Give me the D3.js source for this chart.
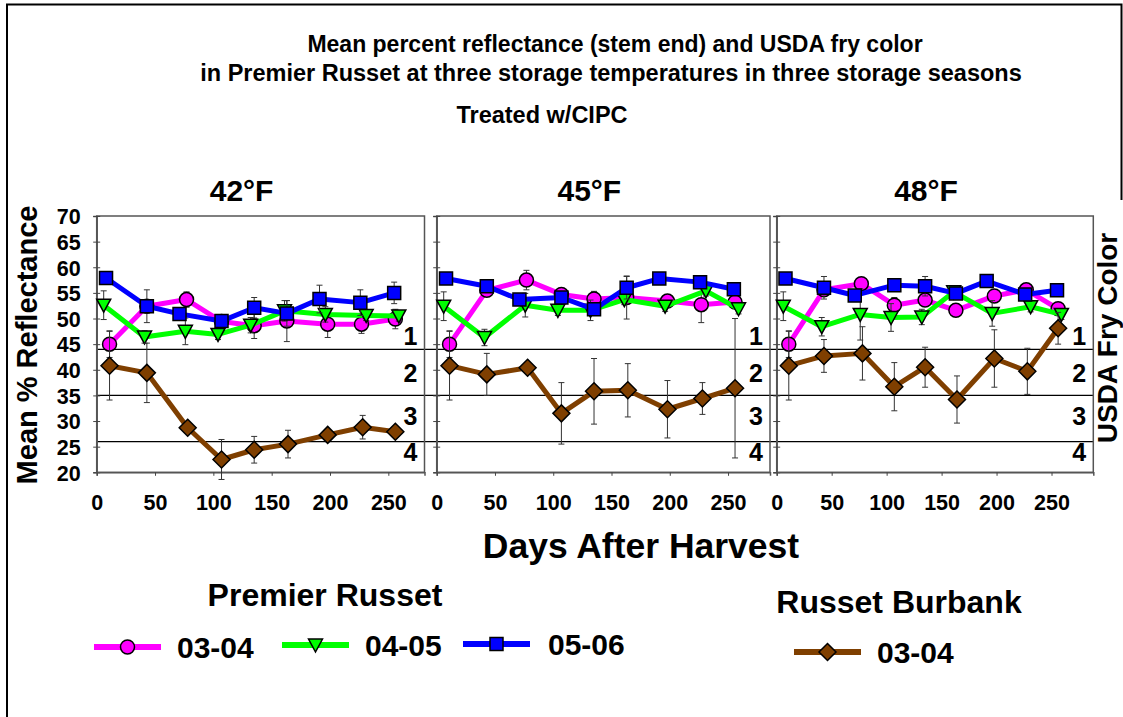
<!DOCTYPE html>
<html><head><meta charset="utf-8">
<script src="https://cdn.jsdelivr.net/npm/d3@7"></script>
<style>
body{margin:0;background:#fff}
text{font-family:"Liberation Sans",Arial,Helvetica,sans-serif;font-weight:bold;fill:#000}
</style>
</head><body>
<svg id="chart" width="1123" height="717"></svg>
<script>
// ---------- data ----------
const titleLines = ["Mean percent reflectance (stem end) and USDA fry color",
  "in Premier Russet at three storage temperatures in three storage seasons"];
const subTitle = "Treated w/CIPC";
const temperatures = ["42°F", "45°F", "48°F"];
const yTicks = [20, 25, 30, 35, 40, 45, 50, 55, 60, 65, 70];
const xTicks = [0, 50, 100, 150, 200, 250];
const fryBreaks = [44, 35, 26];
const fryLabels = ["1", "2", "3", "4"];
const fryLabelLevels = [46.5, 39.4, 31.0, 24.0];

const seriesLabels = ["03-04", "04-05", "05-06", "03-04"];
const cultivars = ["Premier Russet", "Premier Russet", "Premier Russet", "Russet Burbank"];

const daysPR0304 = [11, 43, 77, 107, 135, 163, 198, 227, 256];
const daysPR0405 = [6, 41, 76, 104, 132, 161, 196, 231, 259];
const daysPR0506 = [8, 43, 71, 107, 135, 163, 191, 226, 255];
const daysRB0304 = [11, 43, 78, 107, 135, 164, 198, 228, 256];

// 42°F
const t42PR0304 = [45.0, 52.4, 53.7, 49.4, 48.6, 49.5, 48.9, 48.9, 49.9];
const t42PR0405 = [52.6, 46.4, 47.5, 46.9, 48.7, 51.5, 50.8, 50.6, 50.5];
const t42PR0506 = [57.9, 52.4, 50.9, 49.5, 52.1, 51.0, 53.8, 53.1, 55.0];
const t42RB0304 = [40.8, 39.4, 28.7, 22.5, 24.4, 25.5, 27.3, 28.8, 27.9];
// 45°F
const t45PR0304 = [45.0, 55.5, 57.5, 54.7, 53.8, 54.1, 53.4, 52.7, 53.2];
const t45PR0405 = [52.4, 46.3, 52.6, 51.6, 51.6, 53.7, 52.4, 55.4, 51.9];
const t45PR0506 = [57.8, 56.3, 53.7, 54.1, 51.8, 56.0, 57.8, 57.1, 55.7];
const t45RB0304 = [40.8, 39.1, 40.4, 31.5, 35.8, 36.0, 32.3, 34.4, 36.4];
// 48°F
const t48PR0304 = [45.0, 55.6, 56.8, 52.6, 53.6, 51.6, 54.4, 55.6, 51.9];
const t48PR0405 = [52.4, 48.4, 50.8, 50.2, 50.3, 55.2, 51.0, 52.3, 50.8];
const t48PR0506 = [57.8, 56.0, 54.5, 56.5, 56.3, 54.9, 57.3, 54.7, 55.5];
const t48RB0304 = [40.8, 42.7, 43.2, 36.7, 40.5, 34.2, 42.2, 39.7, 48.1];

// error bars (±)
const e42PR0304 = [2.6, 1.0, 1.5, 0.8, 2.5, 4.0, 2.6, 1.8, 1.9];
const e42PR0405 = [2.8, 1.2, 2.6, 1.0, 1.5, 2.0, 1.5, 1.0, 1.0];
const e42PR0506 = [1.0, 3.2, 1.0, 1.0, 2.0, 2.5, 2.7, 2.5, 2.1];
const e42RB0304 = [6.7, 5.8, 1.0, 3.9, 2.6, 2.7, 1.0, 2.3, 1.0];
const e45PR0304 = [2.6, 1.0, 1.9, 1.0, 1.5, 4.2, 1.0, 3.5, 1.0];
const e45PR0405 = [2.8, 1.6, 2.3, 1.0, 2.0, 1.0, 1.0, 1.0, 1.0];
const e45PR0506 = [1.0, 1.0, 1.0, 1.0, 1.0, 2.2, 1.0, 1.0, 1.0];
const e45RB0304 = [6.7, 4.1, 1.0, 6.0, 6.4, 5.2, 5.6, 3.1, 13.6];
const e48PR0304 = [2.6, 1.0, 1.0, 1.5, 1.0, 1.0, 1.0, 1.0, 1.0];
const e48PR0405 = [2.8, 1.8, 5.0, 2.7, 1.5, 1.0, 2.5, 1.0, 1.0];
const e48PR0506 = [1.0, 2.2, 1.0, 1.0, 1.9, 1.0, 1.0, 1.0, 1.0];
const e48RB0304 = [6.7, 3.2, 5.2, 4.7, 3.9, 4.6, 5.6, 4.5, 3.1];

// ---------- styles ----------
const seriesStyle = [
  {color: "#ff00ff", shape: "circle"},
  {color: "#00ff00", shape: "triangle"},
  {color: "#0000ff", shape: "square"},
  {color: "#7f3f00", shape: "diamond"}
];
const seriesDays = [daysPR0304, daysPR0405, daysPR0506, daysRB0304];
const panelValues = [
  [t42PR0304, t42PR0405, t42PR0506, t42RB0304],
  [t45PR0304, t45PR0405, t45PR0506, t45RB0304],
  [t48PR0304, t48PR0405, t48PR0506, t48RB0304]
];
const panelErrors = [
  [e42PR0304, e42PR0405, e42PR0506, e42RB0304],
  [e45PR0304, e45PR0405, e45PR0506, e45RB0304],
  [e48PR0304, e48PR0405, e48PR0506, e48RB0304]
];
const panelLayout = [
  {x0: 96.7, x1: 424.5, xMax: 281},
  {x0: 436.7, x1: 770.0, xMax: 286},
  {x0: 776.7, x1: 1093.3, xMax: 288}
];
const plotTop = 216, plotBottom = 472.3;

const svg = d3.select("#chart");

// outer frame
svg.append("path").attr("d", "M7,760 L7,4.5 L1121.5,4.5 L1121.5,200")
  .attr("fill", "none").attr("stroke", "#000").attr("stroke-width", 2);

// titles
svg.append("text").attr("x", 615).attr("y", 52).attr("text-anchor", "middle")
  .attr("font-size", 23).text(titleLines[0]);
svg.append("text").attr("x", 611).attr("y", 81).attr("text-anchor", "middle")
  .attr("font-size", 23.5).text(titleLines[1]);
svg.append("text").attr("x", 542).attr("y", 123).attr("text-anchor", "middle")
  .attr("font-size", 23.5).text(subTitle);

const y = d3.scaleLinear().domain([20, 70]).range([plotBottom, plotTop]);

function markerPath(shape) {
  if (shape === "circle") return d3.symbol(d3.symbolCircle, Math.PI * 49)();
  if (shape === "square") return "M-6.5,-6.5H6.5V6.5H-6.5Z";
  if (shape === "triangle") return "M-7,-6L7,-6L0,7Z";
  return "M0,-8.5L8.5,0L0,8.5L-8.5,0Z";
}

// fry color threshold lines (continuous across panels)
fryBreaks.forEach(b => {
  svg.append("line").attr("x1", panelLayout[0].x0).attr("x2", panelLayout[2].x1)
    .attr("y1", y(b)).attr("y2", y(b)).attr("stroke", "#000").attr("stroke-width", 1.2);
});

panelLayout.forEach((p, pi) => {
  const x = d3.scaleLinear().domain([0, p.xMax]).range([p.x0, p.x1]);
  const g = svg.append("g");

  // box
  g.append("rect").attr("x", p.x0).attr("y", plotTop).attr("width", p.x1 - p.x0)
    .attr("height", plotBottom - plotTop).attr("fill", "none")
    .attr("stroke", "#555").attr("stroke-width", 1.5);

  // y axis
  const ya = g.append("g").attr("transform", `translate(${p.x0},0)`)
    .call(d3.axisLeft(y).tickValues(yTicks).tickSize(3.5).tickFormat(pi === 0 ? d3.format("d") : ""));
  ya.select(".domain").attr("stroke", "#555").attr("stroke-width", 1.5);
  ya.selectAll(".tick line").attr("stroke", "#444").attr("x2", -3.5).attr("x1", 3.5);
  ya.selectAll(".tick text").attr("font-size", 21.5).attr("font-family", "Liberation Sans, Arial, sans-serif")
    .attr("font-weight", "bold").attr("x", -16).attr("dy", "0.36em");

  // x axis
  const xa = g.append("g").attr("transform", `translate(0,${plotBottom})`)
    .call(d3.axisBottom(x).tickValues(xTicks).tickSize(3.5).tickFormat(d3.format("d")));
  xa.select(".domain").attr("stroke", "#555").attr("stroke-width", 1.5);
  xa.selectAll(".tick line").attr("stroke", "#444");
  xa.selectAll(".tick text").attr("font-size", 21.5).attr("font-family", "Liberation Sans, Arial, sans-serif")
    .attr("font-weight", "bold").attr("y", 22).attr("dy", "0.71em");

  // panel title
  g.append("text").attr("x", (p.x0 + p.x1) / 2 - 19 + pi * 5).attr("y", 201).attr("text-anchor", "middle")
    .attr("font-size", 30).text(temperatures[pi]);

  // fry labels
  fryLabels.forEach((lab, li) => {
    g.append("text").attr("x", p.x1 - 14).attr("y", y(fryLabelLevels[li])).attr("dy", "0.36em")
      .attr("text-anchor", "middle").attr("font-size", 25).text(lab);
  });

  // series
  seriesStyle.forEach((s, si) => {
    const pts = seriesDays[si].map((d, i) => ({d, v: panelValues[pi][si][i], e: panelErrors[pi][si][i]}));
    g.append("path").datum(pts)
      .attr("d", d3.line().x(q => x(q.d)).y(q => y(q.v)))
      .attr("fill", "none").attr("stroke", s.color).attr("stroke-width", 5)
      .attr("stroke-linejoin", "round");
    const eb = g.append("g").attr("stroke", "#333").attr("stroke-width", 1);
    pts.forEach(q => {
      const cx = x(q.d);
      eb.append("line").attr("x1", cx).attr("x2", cx).attr("y1", y(q.v + q.e)).attr("y2", y(q.v - q.e));
      eb.append("line").attr("x1", cx - 3).attr("x2", cx + 3).attr("y1", y(q.v + q.e)).attr("y2", y(q.v + q.e));
      eb.append("line").attr("x1", cx - 3).attr("x2", cx + 3).attr("y1", y(q.v - q.e)).attr("y2", y(q.v - q.e));
    });
    g.selectAll(null).data(pts).enter().append("path")
      .attr("d", markerPath(s.shape))
      .attr("transform", q => `translate(${x(q.d)},${y(q.v)})`)
      .attr("fill", s.color).attr("stroke", "#000").attr("stroke-width", 1.5);
  });
});

// axis titles
svg.append("text").attr("transform", "translate(37,345) rotate(-90)").attr("text-anchor", "middle")
  .attr("font-size", 29).text("Mean % Reflectance");
svg.append("text").attr("transform", "translate(1117,338) rotate(-90)").attr("text-anchor", "middle")
  .attr("font-size", 28).text("USDA Fry Color");
svg.append("text").attr("x", 641).attr("y", 558).attr("text-anchor", "middle")
  .attr("font-size", 35.5).text("Days After Harvest");

// legend
svg.append("text").attr("x", 325).attr("y", 606).attr("text-anchor", "middle")
  .attr("font-size", 32).text(cultivars[0]);
svg.append("text").attr("x", 899).attr("y", 613).attr("text-anchor", "middle")
  .attr("font-size", 32).text(cultivars[3]);

const legendPos = [
  {lx: 94, ly: 647, tx: 177, ty: 658},
  {lx: 282, ly: 645, tx: 365, ty: 656},
  {lx: 463, ly: 644, tx: 548, ty: 655},
  {lx: 794, ly: 652, tx: 877, ty: 663}
];
seriesStyle.forEach((s, si) => {
  const lp = legendPos[si];
  svg.append("line").attr("x1", lp.lx).attr("x2", lp.lx + 67).attr("y1", lp.ly).attr("y2", lp.ly)
    .attr("stroke", s.color).attr("stroke-width", 6);
  svg.append("path").attr("d", markerPath(s.shape))
    .attr("transform", `translate(${lp.lx + 33.5},${lp.ly})`)
    .attr("fill", s.color).attr("stroke", "#000").attr("stroke-width", 1.5);
  svg.append("text").attr("x", lp.tx).attr("y", lp.ty).attr("font-size", 30).text(seriesLabels[si]);
});
</script>
</body></html>
